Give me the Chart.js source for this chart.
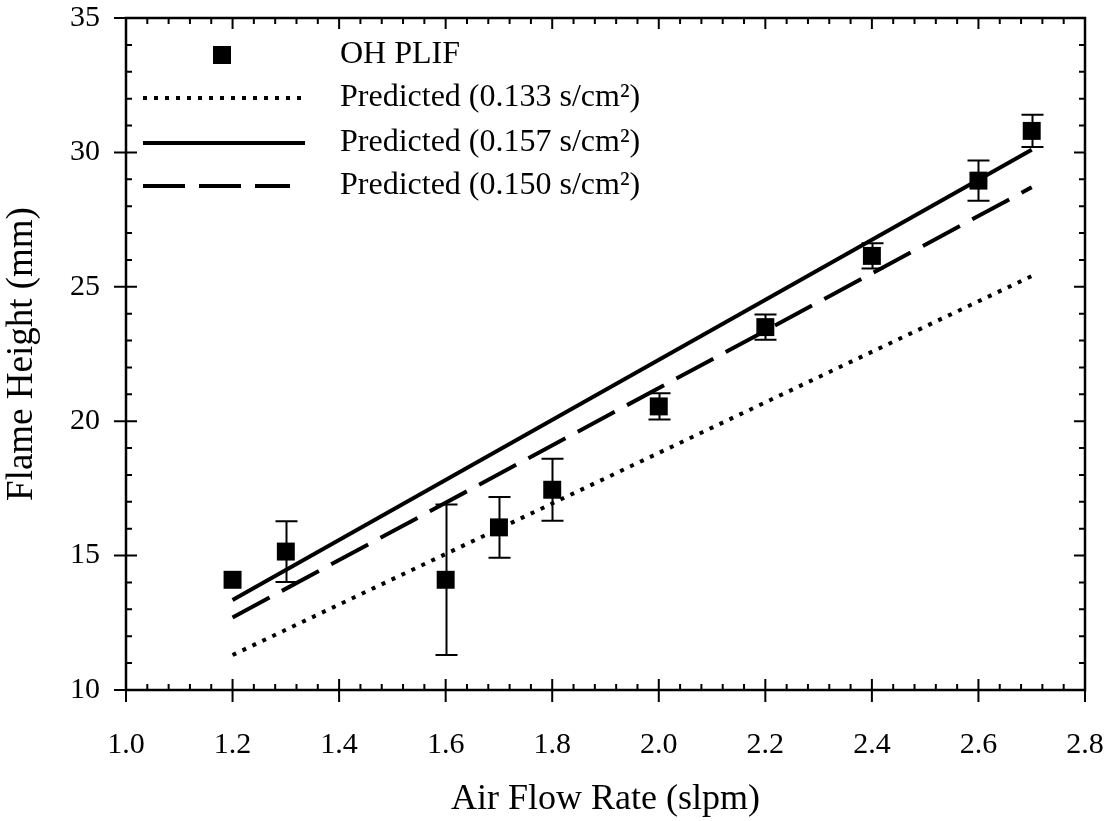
<!DOCTYPE html>
<html lang="pt">
<head>
<meta charset="utf-8">
<title>Flame Height x Air Flow Rate</title>
<script src="https://cdn.jsdelivr.net/npm/chart.js@4.4.1/dist/chart.umd.min.js"></script>
<style>
  html, body { margin: 0; padding: 0; background: #fff; }
  #wrap { width: 1111px; height: 821px; position: relative; }
</style>
</head>
<body>
<div id="wrap"><canvas id="chart1"></canvas></div>
<script>
// Vazão de ar (slpm) dos pontos medidos
const flowRate = [1.2, 1.3, 1.6, 1.7, 1.8, 2.0, 2.2, 2.4, 2.6, 2.7];
// Altura da chama medida por OH PLIF (mm) e meia-barra de erro (mm)
const ohPlif = [14.1, 15.15, 14.1, 16.05, 17.45, 20.55, 23.5, 26.15, 28.95, 30.8];
const ohPlifErr = [0, 1.13, 2.8, 1.13, 1.15, 0.49, 0.47, 0.47, 0.75, 0.6];

// Retas previstas: valores nos extremos 1.2 e 2.7 slpm
const predFlow = [1.2, 2.7];
const pred133 = [11.3, 25.4];
const pred157 = [13.35, 30.1];
const pred150 = [12.7, 28.7];

// Marcas principais dos eixos
const xTicks = [1.0, 1.2, 1.4, 1.6, 1.8, 2.0, 2.2, 2.4, 2.6, 2.8];
const yTicks = [10, 15, 20, 25, 30, 35];

const FONT = "'Liberation Serif', 'Times New Roman', serif";

// junta x e y em pontos {x, y}
const pts = (xs, ys) => xs.map((v, i) => ({ x: v, y: ys[i] }));

// Barras de erro desenhadas antes dos quadrados
const errorBars = {
  id: "errorBars",
  beforeDatasetsDraw(chart) {
    const { ctx, scales: { x, y } } = chart;
    ctx.save();
    ctx.strokeStyle = "#000";
    ctx.lineWidth = 2;
    ctx.beginPath();
    flowRate.forEach((f, i) => {
      if (!ohPlifErr[i]) return;
      const px = Math.round(x.getPixelForValue(f)) + 0.5;
      const top = y.getPixelForValue(ohPlif[i] + ohPlifErr[i]);
      const bot = y.getPixelForValue(ohPlif[i] - ohPlifErr[i]);
      ctx.moveTo(px, top); ctx.lineTo(px, bot);
      ctx.moveTo(px - 11, top); ctx.lineTo(px + 11, top);
      ctx.moveTo(px - 11, bot); ctx.lineTo(px + 11, bot);
    });
    ctx.stroke();
    ctx.restore();
  }
};

// Moldura com marcas principais e secundárias nos quatro lados
const frameTicks = {
  id: "frameTicks",
  afterDraw(chart) {
    const { ctx, chartArea: a, scales: { x, y } } = chart;
    ctx.save();
    ctx.strokeStyle = "#000";
    ctx.lineWidth = 2.5;
    ctx.strokeRect(a.left, a.top, a.right - a.left, a.bottom - a.top);

    ctx.lineWidth = 2;
    ctx.beginPath();
    xTicks.forEach((v, i) => {
      const px = x.getPixelForValue(v);
      ctx.moveTo(px, a.bottom + 12); ctx.lineTo(px, a.bottom - 11);
      ctx.moveTo(px, a.top); ctx.lineTo(px, a.top + 11);
      if (i < xTicks.length - 1) {
        const step = (xTicks[i + 1] - v) / 5;
        for (let k = 1; k < 5; k++) {
          const m = x.getPixelForValue(v + k * step);
          ctx.moveTo(m, a.bottom); ctx.lineTo(m, a.bottom - 6);
          ctx.moveTo(m, a.top); ctx.lineTo(m, a.top + 6);
        }
      }
    });
    yTicks.forEach((v, i) => {
      const py = y.getPixelForValue(v);
      ctx.moveTo(a.left - 12, py); ctx.lineTo(a.left + 11, py);
      ctx.moveTo(a.right, py); ctx.lineTo(a.right - 11, py);
      if (i < yTicks.length - 1) {
        const step = (yTicks[i + 1] - v) / 5;
        for (let k = 1; k < 5; k++) {
          const m = y.getPixelForValue(v + k * step);
          ctx.moveTo(a.left, m); ctx.lineTo(a.left + 6, m);
          ctx.moveTo(a.right, m); ctx.lineTo(a.right - 6, m);
        }
      }
    });
    ctx.stroke();
    ctx.restore();
  }
};

// Legenda dentro da área do gráfico, no canto superior esquerdo
const innerLegend = {
  id: "innerLegend",
  afterDraw(chart) {
    const { ctx } = chart;
    const rows = [55, 98, 143, 186];
    ctx.save();
    ctx.fillStyle = "#000";
    ctx.strokeStyle = "#000";
    ctx.font = "32px " + FONT;
    ctx.textBaseline = "middle";
    chart.data.datasets.forEach((ds, i) => {
      const yy = rows[i];
      if (ds.showLine) {
        ctx.lineWidth = ds.borderWidth;
        ctx.setLineDash(ds.borderDash || []);
        ctx.beginPath();
        ctx.moveTo(143, yy);
        ctx.lineTo(i === 3 ? 290 : 305, yy);
        ctx.stroke();
        ctx.setLineDash([]);
      } else {
        ctx.fillRect(213, yy - 9, 18, 18);
      }
      ctx.fillText(ds.label, 340, yy);
    });
    ctx.restore();
  }
};

const ctx1 = document.getElementById("chart1").getContext("2d");

new Chart(ctx1, {
  type: "scatter",
  data: {
    datasets: [
      {
        label: "OH PLIF",
        data: pts(flowRate, ohPlif),
        pointStyle: "rect",
        pointRadius: 12.7,
        pointBackgroundColor: "#000",
        pointBorderWidth: 0,
        showLine: false
      },
      {
        label: "Predicted (0.133 s/cm²)",
        data: pts(predFlow, pred133),
        showLine: true,
        borderColor: "#000",
        borderWidth: 4,
        borderDash: [4, 7],
        pointRadius: 0
      },
      {
        label: "Predicted (0.157 s/cm²)",
        data: pts(predFlow, pred157),
        showLine: true,
        borderColor: "#000",
        borderWidth: 4,
        pointRadius: 0
      },
      {
        label: "Predicted (0.150 s/cm²)",
        data: pts(predFlow, pred150),
        showLine: true,
        borderColor: "#000",
        borderWidth: 4,
        borderDash: [42, 14],
        pointRadius: 0
      }
    ]
  },
  options: {
    responsive: true,
    maintainAspectRatio: false,
    animation: false,
    layout: { padding: { top: 18, right: 26, left: 0, bottom: 0 } },
    plugins: {
      legend: { display: false },
      tooltip: { enabled: false }
    },
    scales: {
      x: {
        type: "linear",
        min: 1.0,
        max: 2.8,
        // altura fixa e sem folga extra para os rótulos das pontas
        afterFit: s => { s.height = 131; s.paddingLeft = 0; s.paddingRight = 0; },
        afterBuildTicks: s => { s.ticks = xTicks.map(v => ({ value: v })); },
        grid: { display: false, drawTicks: false },
        border: { display: false },
        ticks: {
          padding: 37,
          color: "#000",
          font: { family: FONT, size: 30 },
          callback: v => v.toFixed(1)
        },
        title: {
          display: true,
          text: "Air Flow Rate (slpm)",
          color: "#000",
          font: { family: FONT, size: 36 },
          padding: 0
        }
      },
      y: {
        type: "linear",
        min: 10,
        max: 35,
        afterFit: s => { s.width = 126; s.paddingTop = 0; s.paddingBottom = 0; },
        afterBuildTicks: s => { s.ticks = yTicks.map(v => ({ value: v })); },
        grid: { display: false, drawTicks: false },
        border: { display: false },
        ticks: {
          padding: 26,
          color: "#000",
          font: { family: FONT, size: 30 }
        },
        title: {
          display: true,
          text: "Flame Height (mm)",
          color: "#000",
          font: { family: FONT, size: 37 },
          padding: 0
        }
      }
    }
  },
  plugins: [errorBars, frameTicks, innerLegend]
});
</script>
</body>
</html>
